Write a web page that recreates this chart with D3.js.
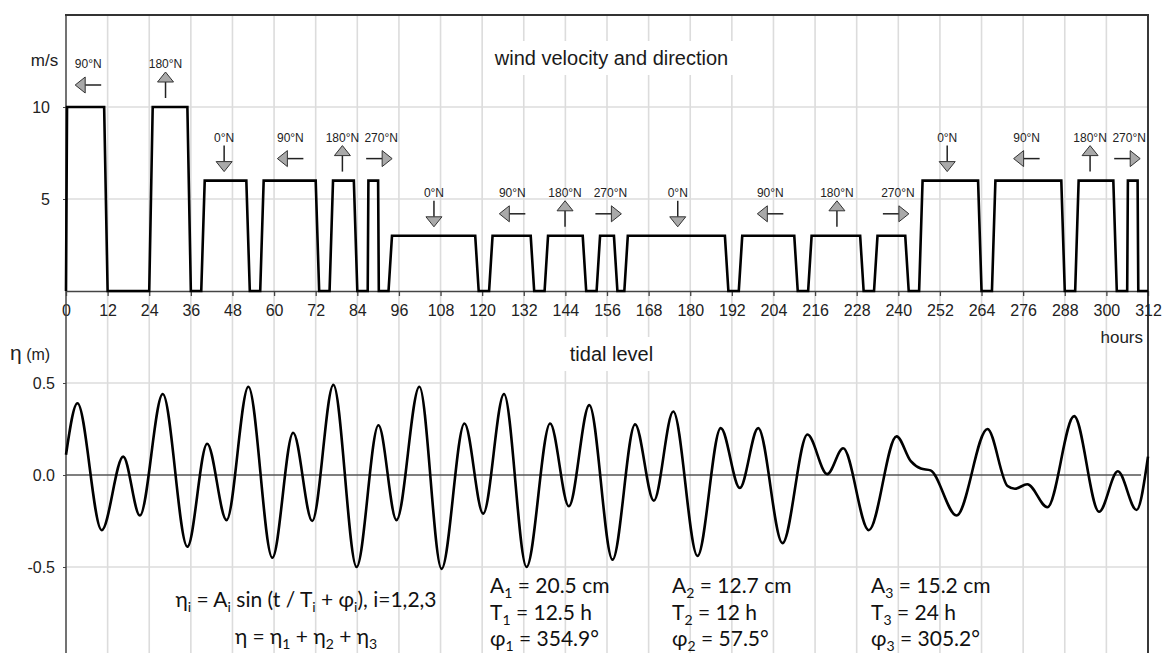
<!DOCTYPE html>
<html>
<head>
<meta charset="utf-8">
<script src="https://cdn.jsdelivr.net/npm/d3@7"></script>
<style>
  html, body { margin: 0; padding: 0; background: #fff; }
  svg { display: block; }
</style>
</head>
<body>
<svg id="chart" width="1164" height="653"></svg>
<script>
// ---- wind record: vertices of the speed trace (hours, m/s) ----
const windHour  = [0, 0.3, 11, 12, 24, 25, 35, 36, 39, 40, 52, 53, 56, 57, 72, 73, 76, 77, 83, 84,
                   87, 87.2, 90, 90.2, 93, 94, 118, 119, 122, 123, 134, 135, 138, 139, 149, 150,
                   153, 154, 158, 159, 161, 162, 190, 191, 194, 195, 210, 211, 214, 215, 229, 230,
                   233, 234, 242, 243, 246, 247, 263, 264, 267, 268, 287, 288, 291, 292, 302, 303,
                   306, 306.2, 309, 309.2, 312];
const windSpeed = [0, 10, 10, 0, 0, 10, 10, 0, 0, 6, 6, 0, 0, 6, 6, 0, 0, 6, 6, 0,
                   0, 6, 6, 0, 0, 3, 3, 0, 0, 3, 3, 0, 0, 3, 3, 0,
                   0, 3, 3, 0, 0, 3, 3, 0, 0, 3, 3, 0, 0, 3, 3, 0,
                   0, 3, 3, 0, 0, 6, 6, 0, 0, 6, 6, 0, 0, 6, 6, 0,
                   0, 6, 6, 0, 0];

// ---- wind direction annotations (hour of arrow, speed plateau, direction °N) ----
const dirHour  = [6.4, 28.7, 45.6, 64.7, 79.7, 90.3, 106.1, 128.7, 143.9, 156.4, 176.4, 203.1,
                  222.3, 239.3, 254.1, 277, 295.3, 306];
const dirLevel = [10, 10, 6, 6, 6, 6, 3, 3, 3, 3, 3, 3, 3, 3, 6, 6, 6, 6];
const dirDeg   = [90, 180, 0, 90, 180, 270, 0, 90, 180, 270, 0, 90, 180, 270, 0, 90, 180, 270];

// ---- tidal level: turning points and shoulders of the curve (hours, m) ----
const tideHour  = [0, 3.3, 10.3, 16.5, 21.3, 27.9, 35.0, 40.7, 46.3, 52.6, 59.5, 65.5, 71.0, 77.1,
                   83.8, 90.1, 95.3, 101.9, 108.3, 114.9, 120.3, 126.3, 132.8, 139.6, 145.0, 150.9,
                   157.6, 164.1, 169.5, 175.1, 182.1, 188.8, 194.3, 199.6, 206.6, 213.8, 219.5,
                   224.1, 231.5, 239.5, 243.6, 246.5, 249.3, 256.8, 265.7, 271.5, 273.6, 277.2,
                   283.0, 290.7, 297.9, 303.3, 308.7, 312];
const tideLevel = [0.11, 0.39, -0.30, 0.10, -0.22, 0.44, -0.39, 0.17, -0.245, 0.48, -0.45, 0.23,
                   -0.25, 0.49, -0.50, 0.27, -0.245, 0.48, -0.51, 0.28, -0.21, 0.44, -0.50, 0.28,
                   -0.17, 0.38, -0.46, 0.275, -0.14, 0.345, -0.44, 0.255, -0.07, 0.255, -0.37,
                   0.22, 0.005, 0.145, -0.30, 0.21, 0.075, 0.035, 0.025, -0.22, 0.25, -0.06,
                   -0.075, -0.05, -0.175, 0.32, -0.20, 0.02, -0.19, 0.10];

// ---- tidal constituents ----
const ampCm    = ["20.5", "12.7", "15.2"];
const periodH  = ["12.5", "12", "24"];
const phaseDeg = ["354.9", "57.5", "305.2"];

// ---- axis ticks ----
const hourTicks  = d3.range(0, 313, 12);
const windTicks  = [5, 10];
const tideTicks  = [-0.5, 0.0, 0.5];

const svg = d3.select("#chart");
const SANS = "'Liberation Sans', Arial, sans-serif";
const NOTE = "Lato, 'Open Sans', sans-serif";

const x  = d3.scaleLinear().domain([0, 312]).range([66, 1148]);
const yW = d3.scaleLinear().domain([0, 15]).range([291, 15]);
const yT = d3.scaleLinear().domain([-1, 1]).range([659, 291]);

const grid = "#dcdcdc";
const axisCol = "#444";

// vertical grid lines through both panels
svg.append("g").selectAll("line")
  .data(hourTicks.filter(h => h > 0 && h < 312))
  .join("line")
  .attr("x1", d => x(d)).attr("x2", d => x(d))
  .attr("y1", yW(15)).attr("y2", 653)
  .attr("stroke", grid).attr("stroke-width", 1.6);

// horizontal grid lines
svg.append("g").selectAll("line")
  .data(windTicks).join("line")
  .attr("x1", x(0)).attr("x2", x(312))
  .attr("y1", d => yW(d)).attr("y2", d => yW(d))
  .attr("stroke", grid).attr("stroke-width", 1.6);
svg.append("g").selectAll("line")
  .data(tideTicks.filter(d => d !== 0)).join("line")
  .attr("x1", x(0)).attr("x2", x(312))
  .attr("y1", d => yT(d)).attr("y2", d => yT(d))
  .attr("stroke", grid).attr("stroke-width", 1.6);

// zero line of the tidal panel
svg.append("line")
  .attr("x1", x(0)).attr("x2", x(310))
  .attr("y1", yT(0)).attr("y2", yT(0))
  .attr("stroke", "#555").attr("stroke-width", 1.3);

// panel titles on white boxes
function boxedTitle(txt, cx, baseline) {
  const g = svg.append("g");
  const t = g.append("text")
    .attr("x", cx).attr("y", baseline)
    .attr("text-anchor", "middle")
    .attr("font-family", SANS).attr("font-size", 20).attr("fill", "#1a1a1a")
    .text(txt);
  const b = t.node().getBBox();
  g.insert("rect", "text")
    .attr("x", b.x - 6).attr("y", b.y - 6)
    .attr("width", b.width + 12).attr("height", b.height + 12)
    .attr("fill", "#fff");
}
boxedTitle("wind velocity and direction", 611.5, 65);
boxedTitle("tidal level", 611.5, 361);

// x axis of the wind panel
const xAxis = d3.axisBottom(x).tickValues(hourTicks).tickSize(5).tickPadding(9).tickSizeOuter(0);
const gx = svg.append("g").attr("transform", `translate(0,${yW(0)})`).call(xAxis);
gx.select(".domain").attr("stroke", axisCol).attr("stroke-width", 1.3);
gx.selectAll(".tick line").attr("stroke", axisCol).attr("stroke-width", 1.3);
gx.selectAll("text").attr("font-family", SANS).attr("font-size", 16).attr("fill", "#222");

// y axes
const gyW = svg.append("g").attr("transform", `translate(${x(0)},0)`)
  .call(d3.axisLeft(yW).tickValues(windTicks).tickSize(3).tickPadding(13));
gyW.select(".domain").remove();
gyW.selectAll(".tick line").attr("stroke", axisCol);
gyW.selectAll("text").attr("font-family", SANS).attr("font-size", 16).attr("fill", "#222");

const gyT = svg.append("g").attr("transform", `translate(${x(0)},0)`)
  .call(d3.axisLeft(yT).tickValues(tideTicks).tickSize(3).tickPadding(8)
        .tickFormat(d => d.toFixed(1)));
gyT.select(".domain").remove();
gyT.selectAll(".tick line").attr("stroke", axisCol);
gyT.selectAll("text").attr("font-family", SANS).attr("font-size", 16).attr("fill", "#222");

// frame: left axis, right edge, top edge
svg.append("line").attr("x1", x(0)).attr("x2", x(0)).attr("y1", yW(15) - 1).attr("y2", 653)
  .attr("stroke", axisCol).attr("stroke-width", 1.5);
svg.append("line").attr("x1", x(312)).attr("x2", x(312)).attr("y1", yW(15) - 1).attr("y2", 653)
  .attr("stroke", "#222").attr("stroke-width", 1.8);
svg.append("line").attr("x1", x(0) - 1).attr("x2", x(312) + 1).attr("y1", yW(15)).attr("y2", yW(15))
  .attr("stroke", "#333").attr("stroke-width", 1.8);

// unit labels
svg.append("text").attr("x", 44.5).attr("y", 66).attr("text-anchor", "middle")
  .attr("font-family", SANS).attr("font-size", 17).attr("fill", "#222").text("m/s");
svg.append("text").attr("x", 1143).attr("y", 343).attr("text-anchor", "end")
  .attr("font-family", SANS).attr("font-size", 17).attr("fill", "#222").text("hours");
const eta = svg.append("text").attr("x", 10).attr("y", 360)
  .attr("font-family", SANS).attr("fill", "#222");
eta.append("tspan").attr("font-size", 21).text("η");
eta.append("tspan").attr("font-size", 16).text(" (m)");

// wind speed trace
const windLine = d3.line().x(d => x(d[0])).y(d => yW(d[1]));
svg.append("path")
  .datum(d3.zip(windHour, windSpeed))
  .attr("d", windLine)
  .attr("fill", "none").attr("stroke", "#000").attr("stroke-width", 2.6)
  .attr("stroke-linejoin", "miter");

// direction arrows with labels
const arrowLen = 26, headLen = 10, headHalf = 8;
const dirs = d3.zip(dirHour, dirLevel, dirDeg);
const ann = svg.append("g").selectAll("g").data(dirs).join("g");
ann.append("text")
  .attr("x", d => x(d[0]) + (d[2] === 270 ? 2 : 0))
  .attr("y", d => yW(d[1]) - 39)
  .attr("text-anchor", "middle")
  .attr("font-family", SANS).attr("font-size", 12).attr("fill", "#222")
  .text(d => `${d[2]}°N`);
const arr = ann.append("g")
  .attr("transform", d => `translate(${x(d[0])},${yW(d[1]) - 22}) rotate(${d[2] - 90})`);
arr.append("line")
  .attr("x1", -arrowLen / 2 + headLen).attr("x2", arrowLen / 2)
  .attr("y1", 0).attr("y2", 0)
  .attr("stroke", "#222").attr("stroke-width", 1.5);
arr.append("path")
  .attr("d", `M${-arrowLen / 2},0 L${-arrowLen / 2 + headLen},${-headHalf} L${-arrowLen / 2 + headLen},${headHalf} Z`)
  .attr("fill", "#a9a9a9").attr("stroke", "#333").attr("stroke-width", 1)
  .attr("stroke-linejoin", "miter");

// tidal level curve
const tideLine = d3.line().x(d => x(d[0])).y(d => yT(d[1])).curve(d3.curveMonotoneX);
svg.append("path")
  .datum(d3.zip(tideHour, tideLevel))
  .attr("d", tideLine)
  .attr("fill", "none").attr("stroke", "#000").attr("stroke-width", 2.6);

// formula notes: parts are [text, subscript?]; subscripts drop 5px and the next run restores it
const SUB_DROP = 5;
function rich(parent, parts) {
  let lowered = false;
  parts.forEach(([t, sub]) => {
    const span = parent.append("tspan").text(t);
    if (sub) {
      span.attr("font-size", 14).attr("dy", lowered ? 0 : SUB_DROP);
      lowered = true;
    } else {
      if (lowered) span.attr("dy", -SUB_DROP);
      lowered = false;
    }
  });
}
function note(xp, yp, parts, anchor) {
  const t = svg.append("text").attr("x", xp).attr("y", yp)
    .attr("text-anchor", anchor || "start")
    .attr("font-family", NOTE).attr("font-size", 21).attr("fill", "#111");
  rich(t, parts);
}
note(306, 607, [["η"], ["i", 1], [" = A"], ["i", 1], [" sin (t / T"], ["i", 1], [" + φ"], ["i", 1], ["), i=1,2,3"]], "middle");
note(306, 644, [["η = η"], ["1", 1], [" + η"], ["2", 1], [" + η"], ["3", 1]], "middle");

const cols = [490, 672, 871];
cols.forEach((cx, i) => {
  const n = String(i + 1);
  note(cx, 593, [["A"], [n, 1], [` = ${ampCm[i]} cm`]]);
  note(cx, 620, [["T"], [n, 1], [` = ${periodH[i]} h`]]);
  note(cx, 646, [["φ"], [n, 1], [` = ${phaseDeg[i]}°`]]);
});
</script>
</body>
</html>
